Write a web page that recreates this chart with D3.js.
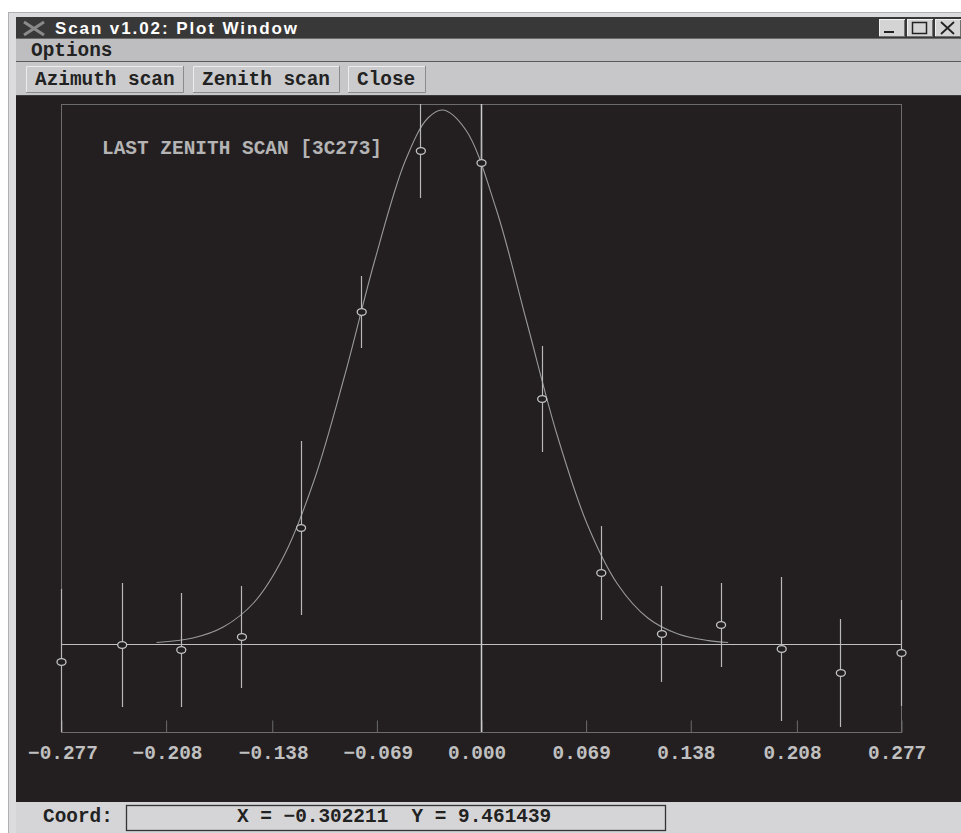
<!DOCTYPE html>
<html>
<head>
<meta charset="utf-8">
<script src="https://cdn.jsdelivr.net/npm/d3@7"></script>
<style>
body { margin: 0; background: #fff; }
svg { display: block; }
.mono { font-family: "Liberation Mono", "DejaVu Sans Mono", monospace; font-weight: bold; font-size: 19.4px; }
</style>
</head>
<body>
<div id="scan"></div>
<script>
// Scan points (offset in deg, flux) with 1-sigma errors
var scanOffsets = [-0.277, -0.237, -0.198, -0.158, -0.119, -0.079, -0.040, 0.000, 0.040, 0.079, 0.119, 0.158, 0.198, 0.237, 0.277];
var scanFlux    = [-1.8, -0.1, -0.6, 0.7, 11.6, 33.2, 49.3, 48.1, 24.5, 7.1, 1.0, 1.9, -0.5, -2.9, -0.9];
var scanErrors  = [7.3, 6.2, 5.7, 5.1, 8.7, 3.6, 4.7, 2.6, 5.3, 4.7, 4.8, 4.2, 7.2, 5.4, 5.3];

// Fitted profile
var fitOffsets = [-0.214, -0.19, -0.17, -0.15, -0.13, -0.11, -0.09, -0.07, -0.05, -0.035, -0.025, -0.01, 0.01, 0.03, 0.05, 0.07, 0.09, 0.11, 0.13, 0.15, 0.163];
var fitFlux    = [0.15, 0.6, 1.7, 4.1, 8.8, 16.4, 26.8, 38.4, 48.3, 52.6, 53.4, 51.4, 43.5, 32.3, 21.0, 12.0, 6.0, 2.6, 1.0, 0.34, 0.15];

// Axis ticks
var tickValues = [-0.277, -0.208, -0.138, -0.069, 0.000, 0.069, 0.138, 0.208, 0.277];
var tickLabels = ["\u22120.277", "\u22120.208", "\u22120.138", "\u22120.069", "0.000", "0.069", "0.138", "0.208", "0.277"];

var buttonLabels = ["Azimuth scan", "Zenith scan", "Close"];

var svgWidth = 961;
var svgHeight = 833;

// plot frame in window
var frame = { left: 61, top: 104, right: 901, bottom: 732 };

var svg = d3.select("#scan")
    .append("svg")
    .attr("width", svgWidth)
    .attr("height", svgHeight);

// ---- window chrome ----
svg.append("rect").attr("x", 8).attr("y", 12).attr("width", 953).attr("height", 821).attr("fill", "#dcdcde");
svg.append("line").attr("x1", 8.5).attr("x2", 8.5).attr("y1", 12).attr("y2", 833).attr("stroke", "#b0b0b0");
svg.append("line").attr("x1", 8).attr("x2", 961).attr("y1", 12.5).attr("y2", 12.5).attr("stroke", "#b0b0b0");

// title bar
svg.append("rect").attr("x", 16).attr("y", 17).attr("width", 945).attr("height", 21).attr("fill", "#383838");
svg.append("path")
    .attr("d", "M24,22 L44,35 M44,22 L24,35")
    .attr("stroke", "#8a8a8a").attr("stroke-width", 3);
svg.append("text")
    .attr("x", 55).attr("y", 34)
    .attr("fill", "#fff")
    .style("font-family", "Liberation Sans, Arial, sans-serif")
    .style("font-weight", "bold")
    .style("font-size", "17px")
    .attr("textLength", 242)
    .text("Scan v1.02: Plot Window");

// window buttons
var winButtons = [879, 907, 935];
winButtons.forEach(function(bx, i) {
    svg.append("rect").attr("x", bx + 0.5).attr("y", 19.5).attr("width", 25).attr("height", 17)
        .attr("fill", "#d4d4d4").attr("stroke", "#f0f0f0");
    svg.append("line").attr("x1", bx + 25.5).attr("x2", bx + 25.5).attr("y1", 20).attr("y2", 37).attr("stroke", "#707070");
    svg.append("line").attr("x1", bx).attr("x2", bx + 26).attr("y1", 36.5).attr("y2", 36.5).attr("stroke", "#707070");
});
svg.append("rect").attr("x", 884).attr("y", 31).attr("width", 10).attr("height", 2).attr("fill", "#222");
svg.append("rect").attr("x", 912.5).attr("y", 22.5).attr("width", 14).attr("height", 11).attr("fill", "none").attr("stroke", "#222").attr("stroke-width", 1.5);
svg.append("path").attr("d", "M941,22 L954,34 M954,22 L941,34").attr("stroke", "#222").attr("stroke-width", 1.8);

// menu bar
svg.append("rect").attr("x", 16).attr("y", 38).attr("width", 945).attr("height", 24).attr("fill", "#bebec0");
svg.append("line").attr("x1", 16).attr("x2", 961).attr("y1", 38.5).attr("y2", 38.5).attr("stroke", "#6a6a6a");
svg.append("line").attr("x1", 16).attr("x2", 961).attr("y1", 61.5).attr("y2", 61.5).attr("stroke", "#5a5a5a");
svg.append("text").attr("class", "mono").attr("x", 31).attr("y", 56).attr("fill", "#222").text("Options");

// button bar
svg.append("rect").attr("x", 16).attr("y", 62).attr("width", 945).attr("height", 33).attr("fill", "#c7c7c9");
var buttonX = [26, 193, 348];
var buttonW = [158, 147, 78];
buttonLabels.forEach(function(label, i) {
    var g = svg.append("g").attr("transform", `translate(${buttonX[i]}, 66)`);
    g.append("rect").attr("width", buttonW[i]).attr("height", 27).attr("fill", "#cbcbcd");
    g.append("path").attr("d", `M0.5,27 L0.5,0.5 L${buttonW[i]},0.5`).attr("stroke", "#ececec").attr("fill", "none");
    g.append("path").attr("d", `M${buttonW[i] - 0.5},0 L${buttonW[i] - 0.5},26.5 L0,26.5`).attr("stroke", "#8a8a8a").attr("fill", "none");
    g.append("text").attr("class", "mono").attr("x", 9).attr("y", 19).attr("fill", "#222").text(label);
});

// plot canvas
svg.append("rect").attr("x", 16).attr("y", 95).attr("width", 945).attr("height", 707).attr("fill", "#231f20");
svg.append("line").attr("x1", 16).attr("x2", 961).attr("y1", 95.5).attr("y2", 95.5).attr("stroke", "#3a3a3a");

// status bar
svg.append("rect").attr("x", 16).attr("y", 802).attr("width", 945).attr("height", 31).attr("fill", "#d5d5d7");
svg.append("text").attr("class", "mono").attr("x", 43).attr("y", 822).attr("fill", "#222").text("Coord:");
svg.append("rect").attr("x", 126.5).attr("y", 805.5).attr("width", 539).attr("height", 25)
    .attr("fill", "#d5d5d7").attr("stroke", "#333").attr("stroke-width", 1.3);
svg.append("text").attr("class", "mono").attr("x", 237).attr("y", 822).attr("fill", "#222")
    .attr("xml:space", "preserve").style("white-space", "pre")
    .text("X = \u22120.302211  Y = 9.461439");

// ---- scales ----
var xScale = d3.scaleLinear()
    .domain([-0.277, 0.277])
    .range([frame.left, frame.right]);

var yScale = d3.scaleLinear()
    .domain([-8.8, 54.0])
    .range([frame.bottom, frame.top]);

var plot = svg.append("g");

plot.append("clipPath").attr("id", "frameClip")
    .append("rect")
    .attr("x", frame.left - 6).attr("y", frame.top)
    .attr("width", frame.right - frame.left + 12).attr("height", frame.bottom - frame.top);

// frame
plot.append("rect")
    .attr("x", frame.left + 0.5).attr("y", frame.top + 0.5)
    .attr("width", frame.right - frame.left).attr("height", frame.bottom - frame.top)
    .attr("fill", "none").attr("stroke", "#6c6c6c");

// bottom axis: ticks point up into the frame
var bottomAxis = d3.axisBottom(xScale)
    .tickValues(tickValues)
    .tickSize(-12)
    .tickPadding(0)
    .tickFormat((d, i) => tickLabels[i]);

var axisG = plot.append("g")
    .attr("transform", `translate(0.5, ${frame.bottom + 0.5})`)
    .call(bottomAxis);
axisG.select(".domain").remove();
axisG.selectAll("line").attr("stroke", "#6c6c6c");
axisG.selectAll("text")
    .attr("class", "mono")
    .attr("fill", "#c0c0c0")
    .attr("text-anchor", "start")
    .attr("x", -34)
    .attr("y", 26)
    .attr("dy", null);

// zero lines
plot.append("line")
    .attr("x1", frame.left).attr("x2", frame.right + 1)
    .attr("y1", Math.round(yScale(0)) + 0.5).attr("y2", Math.round(yScale(0)) + 0.5)
    .attr("stroke", "#c0c0c0").attr("stroke-width", 1.2);
plot.append("line")
    .attr("x1", Math.round(xScale(0)) + 0.5).attr("x2", Math.round(xScale(0)) + 0.5)
    .attr("y1", frame.top).attr("y2", frame.bottom)
    .attr("stroke", "#cccccc").attr("stroke-width", 1.5);

// label
plot.append("text")
    .attr("class", "mono")
    .attr("x", 102).attr("y", 154)
    .attr("fill", "#b4b4b4")
    .attr("textLength", 280)
    .text("LAST ZENITH SCAN [3C273]");

// fitted curve
var fitData = fitOffsets.map((x, i) => ({ x: x, y: fitFlux[i] }));
var fitLine = d3.line()
    .x(d => xScale(d.x))
    .y(d => yScale(d.y))
    .curve(d3.curveCatmullRom.alpha(0.5));

plot.append("path")
    .datum(fitData)
    .attr("d", fitLine)
    .attr("fill", "none")
    .attr("stroke", "#999999")
    .attr("stroke-width", 1.1);

// error bars + markers
var scanData = scanOffsets.map((x, i) => ({ x: x, y: scanFlux[i], err: scanErrors[i] }));

plot.append("g")
    .attr("clip-path", "url(#frameClip)")
    .selectAll("line")
    .data(scanData)
    .enter()
    .append("line")
        .attr("x1", d => Math.round(xScale(d.x)) + 0.5)
        .attr("x2", d => Math.round(xScale(d.x)) + 0.5)
        .attr("y1", d => yScale(d.y + d.err))
        .attr("y2", d => yScale(d.y - d.err))
        .attr("stroke", "#b8b8b8")
        .attr("stroke-width", 1.2);

plot.selectAll("ellipse")
    .data(scanData)
    .enter()
    .append("ellipse")
        .attr("cx", d => xScale(d.x) + 0.5)
        .attr("cy", d => yScale(d.y))
        .attr("rx", 4.5)
        .attr("ry", 3.4)
        .attr("fill", "#231f20")
        .attr("stroke", "#c4c4c4")
        .attr("stroke-width", 1.3);
</script>
</body>
</html>
